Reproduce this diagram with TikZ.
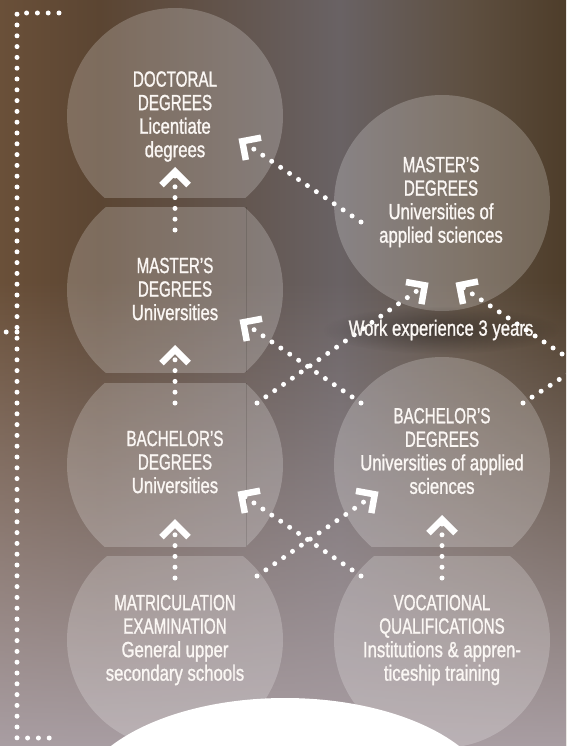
\documentclass[tikz,border=0pt]{standalone}
\usepackage{fontspec}
\setmainfont{Liberation Sans}[FakeStretch=0.76,FakeBold=1.1]
\newfontfamily\capsfont{Liberation Sans}[FakeStretch=0.69,FakeBold=1.1]
\usetikzlibrary{arrows.meta,fadings}

\definecolor{bgA}{HTML}{6A5039}
\definecolor{bgB}{HTML}{5B4532}
\definecolor{bgC}{HTML}{696264}
\definecolor{bgD}{HTML}{5E4F40}
\definecolor{bgE}{HTML}{4E3D2A}
\definecolor{bgBot}{HTML}{A99EA3}

\pgfdeclarehorizontalshading{bgshade}{100bp}{color(0bp)=(bgA); color(25bp)=(bgA); color(33.8bp)=(bgB); color(55bp)=(bgC); color(66.5bp)=(bgD); color(75bp)=(bgE); color(100bp)=(bgE)}
\tikzfading[name=upfade, top color=transparent!100, bottom color=transparent!0]
\tikzfading[name=glowfade, inner color=transparent!0, outer color=transparent!100]

\begin{document}
\begin{tikzpicture}[x=1pt,y=-1pt,
  disc/.style={circle, minimum size=216pt, inner sep=0pt},
  discfill/.style={white, fill opacity=0.21},
  txt/.style={text=white!94!brown, align=center, inner sep=0pt, font=\fontsize{22}{23.5}\selectfont},
  dotline/.style={draw=white, line width=5pt, line cap=round, dash pattern=on 0pt off 10.8pt},
  chev/.style={-{Straight Barb[length=13.5pt,width=27pt,line width=6.5pt,sep=3pt]}},
  seam/.style={black, opacity=0.12, line width=0.8pt}
]
\useasboundingbox (0,0) rectangle (566,746);
\clip (0,0) rectangle (566,746);

% background
\shade[shading=bgshade] (0,0) rectangle (566,746);
\fill[bgBot, path fading=upfade] (0,280) rectangle (566,746);

% circle positions
\node[disc] (doc)  at (175,116) {};
\node[disc] (mu)   at (175,290) {};
\node[disc] (bu)   at (175,465) {};
\node[disc] (ma)   at (175,640) {};
\node[disc] (muas) at (442,203) {};
\node[disc] (buas) at (442,465) {};
\node[disc] (voc)  at (442,640) {};

% cut discs
\begin{scope}\clip (50,0) rectangle (300,197);\fill[discfill] (doc.center) circle[radius=108];\end{scope}
\begin{scope}\clip (50,207) rectangle (300,372);\fill[discfill] (mu.center) circle[radius=108];\end{scope}
\begin{scope}\clip (50,383) rectangle (300,546);\fill[discfill] (bu.center) circle[radius=108];\end{scope}
\begin{scope}\clip (50,556) rectangle (300,760);\fill[discfill] (ma.center) circle[radius=108];\end{scope}
\fill[discfill] (muas.center) circle[radius=108];
\begin{scope}\clip (320,340) rectangle (570,546);\fill[discfill] (buas.center) circle[radius=108];\end{scope}
\begin{scope}\clip (320,556) rectangle (570,760);\fill[discfill] (voc.center) circle[radius=108];\end{scope}
\draw[seam] (246,207) -- (246,372);
\draw[seam] (246,383) -- (246,546);

% white bottom arc
\fill[white] (285,807) ellipse [x radius=210, y radius=109];

% glow behind label
\fill[black, opacity=0.35, path fading=glowfade] (441,330) ellipse [x radius=118, y radius=24];

% left bracket
\draw[dotline] (59,13) -- (17,13) -- (17,738) -- (59,738);
\draw[dotline] (17,332) -- (5,332);

% vertical arrows
\draw[dotline, chev] ([shift={(0,-60)}]mu.center) -- ([shift={(0,48)}]doc.center);
\draw[dotline, chev] ([shift={(0,-62)}]bu.center) -- ([shift={(0,52)}]mu.center);
\draw[dotline, chev] ([shift={(0,-62)}]ma.center) -- ([shift={(0,51)}]bu.center);
\draw[dotline, chev] ([shift={(0,-62)}]voc.center) -- ([shift={(0,47)}]buas.center);

% diagonal arrows
\draw[dotline, chev] ([shift={(-81,19)}]muas.center) -- ([shift={(61,21)}]doc.center);
\draw[dotline, chev] ([shift={(-81,-62)}]buas.center) -- ([shift={(62,28)}]mu.center);
\draw[dotline, chev] ([shift={(82,-64)}]ma.center) -- ([shift={(-61,25)}]buas.center);
\draw[dotline, chev] ([shift={(-81,-64)}]voc.center) -- ([shift={(60,25)}]bu.center);
\draw[dotline, chev] ([shift={(82,-62)}]bu.center) -- ([shift={(-11,78)}]muas.center);
\coordinate (turn) at (580,366);
\draw[dotline] ([shift={(81,-62)}]buas.center) -- (turn);
\draw[dotline, chev] (turn) -- ([shift={(11,78)}]muas.center);

% texts
\node[txt] (docT) at (175,116.5) {{\capsfont DOCTORAL}\\{\capsfont DEGREES}\\Licentiate\\degrees};
\node[txt] (muT) at (175,289) {{\capsfont MASTER’S}\\{\capsfont DEGREES}\\Universities};
\node[txt] (buT) at (175,462) {{\capsfont BACHELOR’S}\\{\capsfont DEGREES}\\Universities};
\node[txt] (maT) at (175,640) {{\capsfont MATRICULATION}\\{\capsfont EXAMINATION}\\General upper\\secondary schools};
\node[txt] (muasT) at (441,202) {{\capsfont MASTER’S}\\{\capsfont DEGREES}\\Universities of\\applied sciences};
\node[txt] (buasT) at (442,451) {{\capsfont BACHELOR’S}\\{\capsfont DEGREES}\\Universities of applied\\sciences};
\node[txt] (vocT) at (442,640) {{\capsfont VOCATIONAL}\\{\capsfont QUALIFICATIONS}\\Institutions \& appren-\\ticeship training};
\node[txt] (work) at (441,330) {Work experience 3 years};
\end{tikzpicture}
\end{document}
